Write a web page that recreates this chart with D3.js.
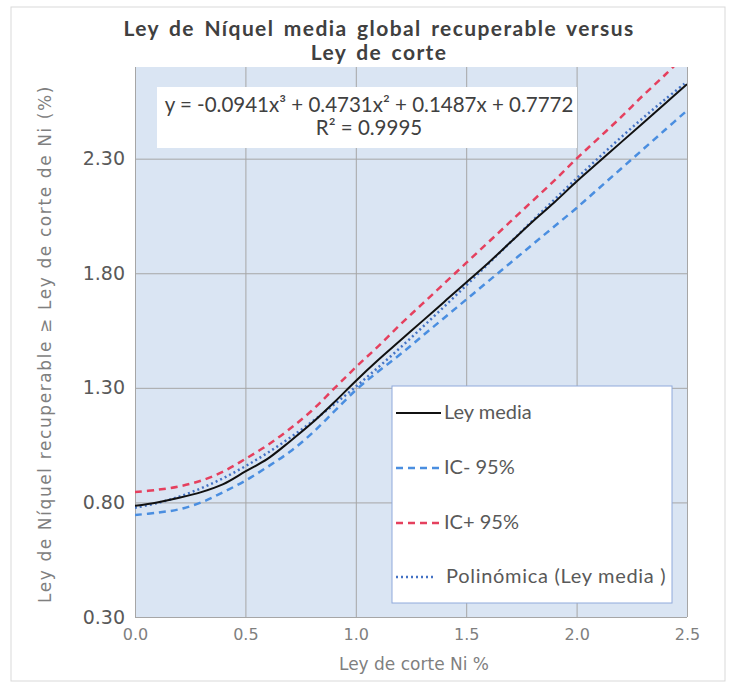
<!DOCTYPE html>
<html>
<head>
<meta charset="utf-8">
<script src="https://cdn.jsdelivr.net/npm/d3@7"></script>
<style>
  body { margin: 0; background: #fff; }
  svg { display: block; }
</style>
</head>
<body>
<div id="chart"></div>
<script>
// valores
const leyCorte = [0, 0.1, 0.2, 0.3, 0.4, 0.5, 0.6, 0.7, 0.8, 0.9, 1.0, 1.1, 1.2,
                  1.3, 1.4, 1.5, 1.6, 1.7, 1.8, 1.9, 2.0, 2.1, 2.2, 2.3, 2.4, 2.5];
const leyMedia = [0.785, 0.80, 0.82, 0.845, 0.88, 0.935, 0.99, 1.065, 1.145, 1.235, 1.33, 1.42, 1.505,
                  1.59, 1.675, 1.76, 1.845, 1.935, 2.025, 2.11, 2.20, 2.285, 2.37, 2.455, 2.54, 2.625];
const icMenos = [0.745, 0.755, 0.77, 0.80, 0.845, 0.895, 0.955, 1.02, 1.10, 1.195, 1.29, 1.37, 1.445,
                 1.525, 1.605, 1.685, 1.765, 1.845, 1.925, 2.005, 2.085, 2.17, 2.255, 2.34, 2.425, 2.51];
const icMas = [0.845, 0.855, 0.87, 0.895, 0.935, 0.99, 1.05, 1.12, 1.20, 1.295, 1.39, 1.48, 1.575,
               1.665, 1.755, 1.845, 1.935, 2.025, 2.115, 2.205, 2.30, 2.39, 2.48, 2.575, 2.665, 2.76];
const polinomica = [0.777, 0.797, 0.825, 0.862, 0.906, 0.958, 1.016, 1.081, 1.151, 1.226, 1.305, 1.388, 1.474,
                    1.563, 1.654, 1.747, 1.841, 1.935, 2.029, 2.122, 2.214, 2.304, 2.392, 2.477, 2.558, 2.636];
const xTicks = [0, 0.5, 1.0, 1.5, 2.0, 2.5];
const yTicks = [0.30, 0.80, 1.30, 1.80, 2.30];

const W = 734, H = 690;
const pLeft = 135, pRight = 687, pTop = 67, pBottom = 617;

const svg = d3.select("#chart").append("svg")
  .attr("width", W).attr("height", H);

// marco del gráfico
svg.append("rect")
  .attr("x", 11).attr("y", 7).attr("width", 714).attr("height", 674)
  .attr("fill", "#fff").attr("stroke", "#d9d9d9");

const x = d3.scaleLinear().domain([0, 2.5]).range([pLeft, pRight]);
const y = d3.scaleLinear().domain([0.3, 2.7]).range([pBottom, pTop]);

// área de trazado
svg.append("rect")
  .attr("x", pLeft).attr("y", pTop)
  .attr("width", pRight - pLeft).attr("height", pBottom - pTop)
  .attr("fill", "#dae5f3");

svg.append("defs").append("clipPath").attr("id", "clip")
  .append("rect")
  .attr("x", pLeft).attr("y", pTop)
  .attr("width", pRight - pLeft).attr("height", pBottom - pTop);

// rejilla
svg.append("g")
  .attr("transform", `translate(0,${pBottom})`)
  .call(d3.axisBottom(x).tickValues(xTicks).tickSize(-(pBottom - pTop)).tickFormat(d3.format(".1f")).tickPadding(12))
  .call(g => g.select(".domain").remove())
  .call(g => g.selectAll(".tick line").attr("stroke", "#a6a6a6"))
  .call(g => g.selectAll(".tick text")
    .attr("font-family", "DejaVu Sans").attr("font-size", 16).attr("fill", "#7f7f7f"));

svg.append("g")
  .attr("transform", `translate(${pLeft},0)`)
  .call(d3.axisLeft(y).tickValues(yTicks).tickSize(-(pRight - pLeft)).tickFormat(d3.format(".2f")).tickPadding(10))
  .call(g => g.select(".domain").remove())
  .call(g => g.selectAll(".tick line").attr("stroke", "#a6a6a6"))
  .call(g => g.selectAll(".tick text")
    .attr("font-family", "DejaVu Sans").attr("font-size", 19).attr("fill", "#595959"));

// series
const series = [
  {name: "Ley media", values: leyMedia, color: "#111", dash: null, width: 2},
  {name: "IC- 95%", values: icMenos, color: "#4a8ee0", dash: "7,5", width: 2.5},
  {name: "IC+ 95%", values: icMas, color: "#e5405e", dash: "7,5", width: 2.5},
  {name: "Polinómica (Ley media )", values: polinomica, color: "#4472c4", dash: "2,3", width: 2.5}
];

const line = d3.line()
  .x(d => x(d[0]))
  .y(d => y(d[1]))
  .curve(d3.curveCatmullRom);

const plot = svg.append("g").attr("clip-path", "url(#clip)");
[series[1], series[2], series[3], series[0]].forEach(s => {
  plot.append("path")
    .datum(leyCorte.map((v, i) => [v, s.values[i]]))
    .attr("d", line)
    .attr("fill", "none")
    .attr("stroke", s.color)
    .attr("stroke-width", s.width)
    .attr("stroke-dasharray", s.dash);
});

// ecuación de la línea de tendencia
svg.append("rect")
  .attr("x", 157).attr("y", 87).attr("width", 420).attr("height", 61)
  .attr("fill", "#fff");
svg.append("text")
  .attr("x", 369).attr("y", 112)
  .attr("text-anchor", "middle")
  .attr("font-family", "Lato").attr("font-size", 20.5).attr("fill", "#404040")
  .text("y = -0.0941x³ + 0.4731x² + 0.1487x + 0.7772");
svg.append("text")
  .attr("x", 369).attr("y", 135)
  .attr("text-anchor", "middle")
  .attr("font-family", "Lato").attr("font-size", 20.5).attr("fill", "#404040")
  .text("R² = 0.9995");

// leyenda
const legend = svg.append("g");
legend.append("rect")
  .attr("x", 392).attr("y", 386).attr("width", 280).attr("height", 217)
  .attr("fill", "#fff").attr("stroke", "#8faadc");
const legY = [413, 468, 523, 577];
series.forEach((s, i) => {
  legend.append("line")
    .attr("x1", 396).attr("x2", i === 3 ? 434 : 441)
    .attr("y1", legY[i]).attr("y2", legY[i])
    .attr("stroke", s.color).attr("stroke-width", s.width)
    .attr("stroke-dasharray", s.dash);
  legend.append("text")
    .attr("x", i === 3 ? 446 : 444).attr("y", legY[i] + 6)
    .attr("font-family", "Lato").attr("font-size", 20).attr("fill", "#595959")
    .attr("letter-spacing", i === 3 ? 0.7 : 0)
    .text(s.name);
});

// títulos
svg.append("text")
  .attr("x", 379).attr("y", 36)
  .attr("text-anchor", "middle")
  .attr("font-family", "Lato").attr("font-weight", "bold").attr("font-size", 21)
  .attr("letter-spacing", 1.4).attr("word-spacing", 3).attr("fill", "#404040")
  .text("Ley de Níquel media global recuperable versus");
svg.append("text")
  .attr("x", 379).attr("y", 60)
  .attr("text-anchor", "middle")
  .attr("font-family", "Lato").attr("font-weight", "bold").attr("font-size", 21)
  .attr("letter-spacing", 1.4).attr("word-spacing", 3).attr("fill", "#404040")
  .text("Ley de corte");

svg.append("text")
  .attr("x", 414).attr("y", 670)
  .attr("text-anchor", "middle")
  .attr("font-family", "DejaVu Sans").attr("font-size", 17).attr("fill", "#7f7f7f")
  .text("Ley de corte Ni %");

svg.append("text")
  .attr("transform", "translate(51,344) rotate(-90)")
  .attr("text-anchor", "middle")
  .attr("font-family", "DejaVu Sans").attr("font-size", 17).attr("letter-spacing", 1.6)
  .attr("fill", "#7f7f7f")
  .text("Ley de Níquel recuperable ≥ Ley de corte de Ni (%)");
</script>
</body>
</html>
